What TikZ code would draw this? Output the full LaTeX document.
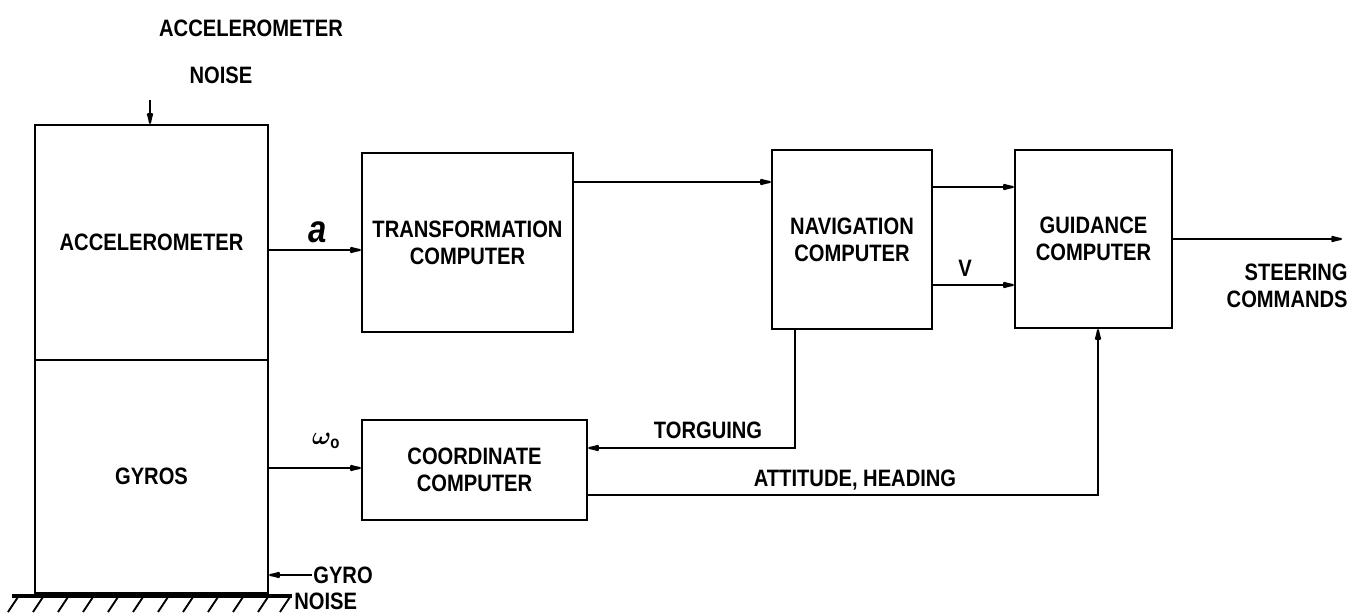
\documentclass[tikz,border=0pt]{standalone}
\usepackage{fontspec}
\setmainfont{Liberation Sans}[FakeStretch=0.85]
\usepackage{tikz}
\usetikzlibrary{arrows.meta, calc, positioning}

\begin{document}
\begin{tikzpicture}[x=0.02cm, y=-0.02cm,
		blk/.style={draw, line width=1.3pt, align=center,
			font=\fontsize{13.5}{15.5}\selectfont\bfseries, inner sep=0pt},
		lbl/.style={font=\fontsize{13.5}{15.5}\selectfont\bfseries, align=center, inner sep=0pt},
		arr/.style={-{Latex[length=10pt, width=4pt, round]}, line width=1.2pt},
		ln/.style={line width=1.1pt}
	]
	\useasboundingbox (0,0) rectangle (1352,614);
	% left stack
	\node[blk, minimum width=4.66cm, minimum height=4.7cm]  (accel) at (151.5,242.5) {ACCELEROMETER};
	\node[blk, minimum width=4.66cm, minimum height=4.66cm] (gyros) at (151.5,476.5) {GYROS};
	% computers
	\node[blk, minimum width=4.22cm, minimum height=3.58cm] (trans) at (467.5,242.5) {TRANSFORMATION\\COMPUTER};
	\node[blk, minimum width=3.2cm,  minimum height=3.58cm] (nav)   at (852,239.5)   {NAVIGATION\\COMPUTER};
	\node[blk, minimum width=3.14cm, minimum height=3.56cm] (guid)  at (1093.5,239)  {GUIDANCE\\COMPUTER};
	\node[blk, minimum width=4.5cm,  minimum height=2cm]    (coord) at (474.5,470)   {COORDINATE\\COMPUTER};
	% free ends
	\coordinate (anoise) at (150,100);
	\coordinate (gnoise) at (312,575);
	\coordinate (steer)  at (1342,239);
	% labels
	\node[lbl] (anoisetxt) at (251,28)  {ACCELEROMETER};
	\node[lbl] (anoisetx2) at (221,75)  {NOISE};
	\node[lbl, anchor=west] (gnoisetxt) at (313,575) {GYRO};
	\node[lbl, anchor=west] (gnoisetx2) at (294,601) {NOISE};
	\node[lbl, align=right, anchor=east] (steertxt) at (1348,286) {STEERING\\COMMANDS};
	\node[font=\fontsize{22}{22}\selectfont\bfseries\itshape] (atxt) at (318,232) {a};
	\node[font=\Large\boldmath] (wtxt) at (327,441) {$\omega_{\mathrm{o}}$};
	\node[lbl] (vtxt)   at (965,268) {V};
	\node[lbl] (torqtxt) at (708,430) {TORGUING};
	\node[lbl] (atttxt) at (855,480) {ATTITUDE, HEADING};
	% connectors
	\draw[arr] (anoise) -- (anoise |- accel.north);
	\draw[arr] (accel.east |- 0,250) -- (trans.west |- 0,250);
	\draw[arr] (gyros.east |- 0,468) -- (coord.west |- 0,468);
	\draw[arr] (trans.east |- 0,182) -- (nav.west |- 0,182);
	\draw[arr] (nav.east |- 0,187) -- (guid.west |- 0,187);
	\draw[arr] (nav.east |- 0,285) -- (guid.west |- 0,285);
	\draw[arr] (guid.east) -- (steer);
	\draw[arr] (nav.south -| 795,0) -- (795,448) -- (coord.east |- 0,448);
	\draw[arr] (coord.east |- 0,495) -- (1098,495) -- (1098,0 |- guid.south);
	\draw[arr] (gnoise) -- (gnoise -| gyros.east);
	% ground
	\draw[line width=1.8pt] (12,596) -- (292,596);
	\foreach \gx in {8,33,58,83,108,133,158,183,208,233,258,280}
		\draw[ln] (\gx,612) -- (\gx+10,597);
\end{tikzpicture}
\end{document}
